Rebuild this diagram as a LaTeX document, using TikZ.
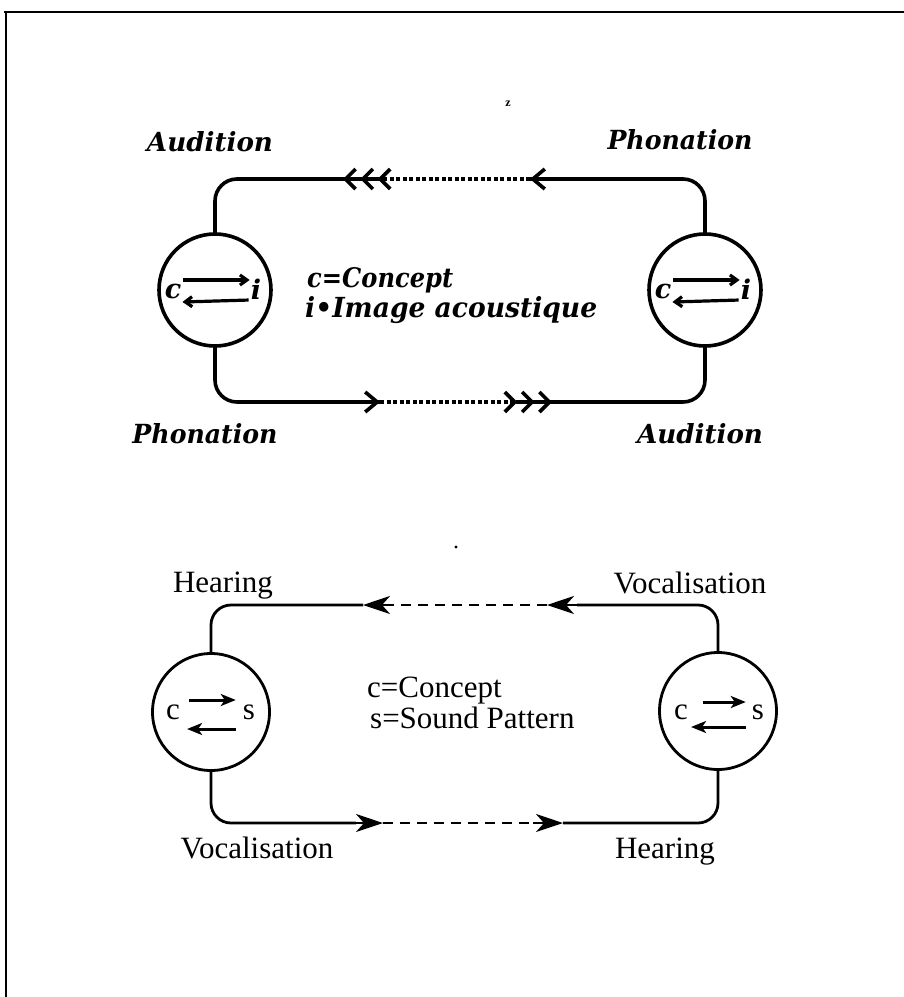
\documentclass[tikz,border=0pt]{standalone}
\usepackage{fontspec}
\usepackage{graphicx}
\setmainfont{Liberation Serif}
\newfontfamily\oldbold{DejaVu Serif}
\newcommand\fitwh[3]{\resizebox{#1}{#2}{#3}}
\usetikzlibrary{arrows.meta}
\begin{document}
\begin{tikzpicture}[x=1pt,y=-1pt,
  % upper circuit (French labels)
  loopA/.style={line width=3.6pt},
  dotsA/.style={loopA, dash pattern=on 4pt off 2.5pt},
  ringA/.style={circle, draw, line width=3.6pt, minimum size=112pt, inner sep=0pt, outer sep=0pt},
  barbA/.style={-{Straight Barb[length=12pt,width=20pt]}},
  tripleA/.style={-{Straight Barb[length=10pt,width=20pt,sep=3pt]Straight Barb[length=10pt,width=20pt,sep=3pt]Straight Barb[length=10pt,width=20pt]}},
  fontA/.style={font=\oldbold\fontsize{27}{32}\selectfont\bfseries\itshape},
  lblA/.style={fontA, anchor=base, inner sep=0pt},
  letterA/.style={fontA, inner sep=1pt},
  innerA/.style={line width=3.2pt, -{Straight Barb[length=7pt,width=10pt]}},
  % lower circuit (English labels)
  loopB/.style={line width=2.8pt},
  dashB/.style={loopB, dash pattern=on 10pt off 7pt},
  ringB/.style={circle, draw, line width=2.8pt, minimum size=117pt, inner sep=0pt, outer sep=0pt},
  headB/.style={-{Stealth[length=27pt,width=18pt,inset=8pt]}},
  fontB/.style={font=\fontsize{31}{36}\selectfont},
  lblB/.style={fontB, anchor=base, inner sep=0pt},
  letterB/.style={fontB, inner sep=1pt},
  innerB/.style={line width=3pt, -{Stealth[length=15pt,width=12pt,inset=4pt]}},
  frame/.style={line width=2pt}
]
\useasboundingbox (0,0) rectangle (904,997);

% page frame (top and left rules)
\draw[frame] (4,12) -- (904,12);
\draw[frame] (6,12) -- (6,997);

% stray printing marks
\node[font=\fontsize{12}{12}\selectfont\bfseries, inner sep=0pt] (mk) at (508,104) {z};
\fill (456,547) circle (1.6pt);

% ================= upper circuit =================
\node[ringA] (L1) at (215,290) {};
\node[ringA] (R1) at (705,290) {};

\node[letterA] (c1) at (173,291) {c};
\node[letterA] (i1) at (256,289) {i};
\node[letterA] (c2) at (663,291) {c};
\node[letterA] (i2) at (746,289) {i};

\draw[innerA, shorten <=1pt] ([yshift=11pt]c1.east) -- ([yshift=9pt]i1.west);
\draw[innerA, shorten <=1pt] ([yshift=-11pt]i1.west) -- ([yshift=-11pt]c1.east);
\draw[innerA, shorten <=1pt] ([yshift=11pt]c2.east) -- ([yshift=9pt]i2.west);
\draw[innerA, shorten <=1pt] ([yshift=-11pt]i2.west) -- ([yshift=-11pt]c2.east);

\node[lblA] (aud1) at (210,151) {\fitwh{126pt}{20pt}{Audition}};
\node[lblA] (pho1) at (680,149) {\fitwh{145pt}{20pt}{Phonation}};
\node[lblA] (pho2) at (205,443) {\fitwh{145pt}{20pt}{Phonation}};
\node[lblA] (aud2) at (700,443) {\fitwh{126pt}{20pt}{Audition}};

\node[fontA, anchor=base west, inner sep=0pt] (cdef) at (307,287) {\fitwh{146pt}{20pt}{c=Concept}};
\node[fontA, anchor=base west, inner sep=0pt] (idef) at (305,317) {\fitwh{292pt}{21pt}{i•Image acoustique}};

% top branch, right to left
\coordinate (t1)  at (530,179);
\coordinate (t1e) at (558,179);
\coordinate (t2)  at (343,179);
\coordinate (t2e) at (385,179);
\draw[loopA, rounded corners=22pt] (R1.north) |- (t1);
\draw[loopA, barbA] (t1e) -- (t1);
\draw[dotsA] (t1) -- (t2e);
\draw[loopA, rounded corners=22pt] (t2e) -| (L1.north);
\draw[loopA, tripleA] (t2e) -- (t2);

% bottom branch, left to right
\coordinate (u1)  at (380,402);
\coordinate (u1e) at (354,402);
\coordinate (u2)  at (552,402);
\coordinate (u2e) at (516,402);
\draw[loopA, rounded corners=22pt] (L1.south) |- (u1);
\draw[loopA, barbA] (u1e) -- (u1);
\draw[dotsA] (u1) -- (u2e);
\draw[loopA, rounded corners=22pt] (u2e) -| (R1.south);
\draw[loopA, tripleA] (u2e) -- (u2);

% ================= lower circuit =================
\node[ringB] (L2) at (211,712) {};
\node[ringB] (R2) at (718,711) {};

\node[letterB] (c3) at (173,712) {c};
\node[letterB] (s3) at (249,712) {s};
\node[letterB] (c4) at (681,712) {c};
\node[letterB] (s4) at (758,712) {s};

\draw[innerB, shorten <=8pt, shorten >=6pt] ([yshift=12pt]c3.east) -- ([yshift=12pt]s3.west);
\draw[innerB, shorten <=6pt, shorten >=6pt] ([yshift=-17pt]s3.west) -- ([yshift=-17pt]c3.east);
\draw[innerB, shorten <=14pt, shorten >=5pt] ([yshift=10pt]c4.east) -- ([yshift=10pt]s4.west);
\draw[innerB, shorten <=5pt, shorten >=2pt] ([yshift=-15pt]s4.west) -- ([yshift=-15pt]c4.east);

\node[lblB] (hear1) at (223,592) {Hearing};
\node[lblB] (voc1)  at (690,593) {Vocalisation};
\node[lblB] (voc2)  at (257,858) {Vocalisation};
\node[lblB] (hear2) at (665,858) {Hearing};

\node[fontB, anchor=base west, inner sep=0pt] (cdef2) at (367,697) {c=Concept};
\node[fontB, anchor=base west, inner sep=0pt] (sdef2) at (370,728) {s=Sound Pattern};

% top branch, right to left
\coordinate (b1)  at (547,605);
\coordinate (b1e) at (577,605);
\coordinate (b2)  at (363,605);
\coordinate (b2e) at (391,605);
\draw[loopB, rounded corners=20pt] (R2.north) |- (b1e);
\draw[loopB, headB] (b1e) -- (b1);
\draw[dashB] (b1) -- (b2e);
\draw[loopB, headB] (b2e) -- (b2);
\draw[loopB, rounded corners=20pt] (b2) -| (L2.north);

% bottom branch, left to right
\coordinate (v1)  at (383,823);
\coordinate (v1e) at (356,823);
\coordinate (v2)  at (563,823);
\coordinate (v2e) at (533,823);
\draw[loopB, rounded corners=20pt] (L2.south) |- (v1e);
\draw[loopB, headB] (v1e) -- (v1);
\draw[dashB] (v1) -- (v2e);
\draw[loopB, headB] (v2e) -- (v2);
\draw[loopB, rounded corners=20pt] (v2) -| (R2.south);
\end{tikzpicture}
\end{document}
